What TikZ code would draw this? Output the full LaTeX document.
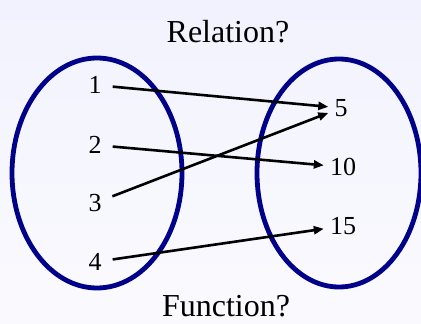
\documentclass[tikz,border=0pt]{standalone}
\usepackage{fontspec}
\setmainfont{Liberation Serif}
\usepackage{tikz}
\usetikzlibrary{arrows.meta, positioning}
\definecolor{setblue}{HTML}{000088}
\definecolor{bgtop}{HTML}{F2F2FE}
\definecolor{bgbottom}{HTML}{FAFAFE}

\begin{document}
\begin{tikzpicture}[x=1pt, y=-1pt,
  num/.style={font=\fontsize{26}{28}\selectfont, inner sep=6pt},
  ttl/.style={font=\fontsize{32}{36}\selectfont, inner sep=0pt, anchor=base},
  arr/.style={-{Triangle[length=10pt, width=8pt]}, line width=2.6pt, black,
    shorten <=5pt},
  setring/.style={draw=setblue, line width=4.8pt}]
\useasboundingbox (0,0) rectangle (421,324);
\shade[top color=bgtop, bottom color=bgbottom] (0,0) rectangle (421,324);
% the two sets
\draw[setring] (97,173) ellipse [x radius=85, y radius=115];
\draw[setring] (339,173) ellipse [x radius=82, y radius=114];
% titles
\node[ttl] (relation) at (228,42) {Relation?};
\node[ttl] (function) at (226,316) {Function?};
% domain
\node[num] (n1) at (95,85) {1};
\node[num] (n2) at (95,145) {2};
\node[num] (n3) at (95,203) {3};
\node[num] (n4) at (95,262) {4};
% range
\node[num] (m5) at (341,108) {5};
\node[num] (m10) at (343,167) {10};
\node[num] (m15) at (343,226) {15};
% mapping
\draw[arr] (n1) -- (m5);
\draw[arr] (n2) -- (m10);
\draw[arr] (n3) -- (m5);
\draw[arr] (n4) -- (m15);
\end{tikzpicture}
\end{document}
